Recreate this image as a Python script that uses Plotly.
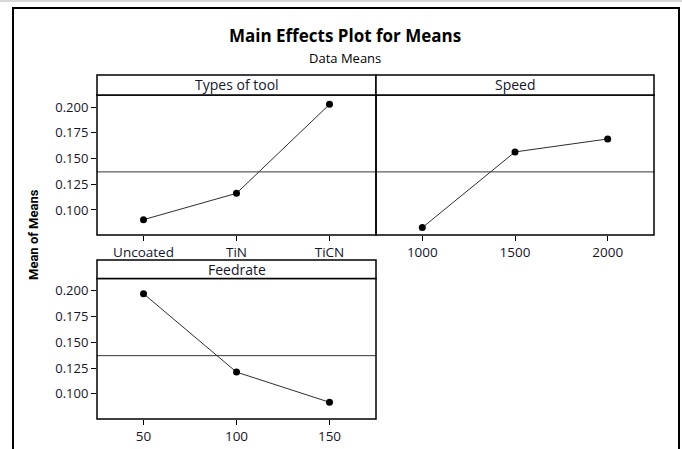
import plotly.graph_objects as go

W, H = 682, 449

# ---- data ----
tool_levels = ["Uncoated", "TiN", "TiCN"]
tool_means = [0.0906, 0.1162, 0.2026]
speed_levels = [1000, 1500, 2000]
speed_means = [0.0829, 0.1564, 0.1690]
feed_levels = [50, 100, 150]
feed_means = [0.1970, 0.1211, 0.0919]
grand_mean = 0.137
panel_titles = ["Types of tool", "Speed", "Feedrate"]
y_ticks = [0.100, 0.125, 0.150, 0.175, 0.200]
y_tick_text = ["0.100", "0.125", "0.150", "0.175", "0.200"]

FONT = "Open Sans"
TXT = "#15152a"

def px(x):
    return x / W

def py(y):
    return 1 - y / H

fig = go.Figure()

line_style = dict(color="#2e2e2e", width=1)
marker_style = dict(color="black", size=7)

fig.add_trace(go.Scatter(x=tool_levels, y=tool_means, mode="lines+markers",
                         line=line_style, marker=marker_style, xaxis="x", yaxis="y",
                         showlegend=False))
fig.add_trace(go.Scatter(x=speed_levels, y=speed_means, mode="lines+markers",
                         line=line_style, marker=marker_style, xaxis="x2", yaxis="y2",
                         showlegend=False))
fig.add_trace(go.Scatter(x=feed_levels, y=feed_means, mode="lines+markers",
                         line=line_style, marker=marker_style, xaxis="x3", yaxis="y3",
                         showlegend=False))

yr = [0.0757, 0.2117]
xtickfont = dict(family=FONT, size=13.5, color=TXT)
ytickfont = dict(family=FONT, size=13, color=TXT)

axis_common = dict(showline=False, showgrid=False, zeroline=False, ticks="outside",
                   ticklen=5, tickwidth=1.2, tickcolor="black")

top_dom = [py(235), py(95)]
bot_dom = [py(419), py(278.5)]

fig.update_layout(
    width=W, height=H,
    margin=dict(l=0, r=0, t=0, b=0),
    paper_bgcolor="white", plot_bgcolor="white",
    xaxis=dict(domain=[px(97), px(376)], type="category", range=[-0.5, 2.5],
               anchor="y", tickfont=xtickfont, **axis_common),
    yaxis=dict(domain=top_dom, range=yr, tickvals=y_ticks, ticktext=y_tick_text,
               anchor="x", tickfont=ytickfont, **axis_common),
    xaxis2=dict(domain=[px(376), px(654)], range=[750, 2250], tickvals=speed_levels,
                anchor="y2", tickfont=xtickfont, **axis_common),
    yaxis2=dict(domain=top_dom, range=yr, tickvals=y_ticks, showticklabels=False,
                anchor="x2", **{**axis_common, "ticks": ""}),
    xaxis3=dict(domain=[px(97), px(376)], range=[25, 175], tickvals=feed_levels,
                anchor="y3", tickfont=xtickfont, **axis_common),
    yaxis3=dict(domain=bot_dom, range=yr, tickvals=y_ticks, ticktext=y_tick_text,
                anchor="x3", tickfont=ytickfont, **axis_common),
)

shapes = []
# grand mean reference lines
for xr, yr_ in [("x domain", "y"), ("x2 domain", "y2"), ("x3 domain", "y3")]:
    shapes.append(dict(type="line", xref=xr, yref=yr_, x0=0, x1=1,
                       y0=grand_mean, y1=grand_mean,
                       line=dict(color="#333333", width=1)))

# plot-area frames
frames = [
    (97, 376, 95, 235),
    (376, 654, 95, 235),
    (97, 376, 278.5, 419),
]
for x0, x1, y0, y1 in frames:
    shapes.append(dict(type="rect", xref="paper", yref="paper",
                       x0=px(x0), x1=px(x1), y0=py(y1), y1=py(y0),
                       line=dict(color="black", width=1.5)))

# header strips
headers = [
    (97, 376, 75, 95),
    (376, 654, 75, 95),
    (97, 376, 260, 278.5),
]
annotations = []
for (x0, x1, y0, y1), title in zip(headers, panel_titles):
    shapes.append(dict(type="rect", xref="paper", yref="paper",
                       x0=px(x0), x1=px(x1), y0=py(y1), y1=py(y0),
                       line=dict(color="black", width=1.5), fillcolor="white"))
    annotations.append(dict(text=title, xref="paper", yref="paper",
                            x=px((x0 + x1) / 2), y=py((y0 + y1) / 2),
                            showarrow=False, xanchor="center", yanchor="middle",
                            font=dict(family=FONT, size=14, color=TXT)))

# outer frame
shapes.append(dict(type="rect", xref="paper", yref="paper",
                   x0=px(13), x1=px(679), y0=-0.2, y1=py(8),
                   line=dict(color="black", width=2)))
# faint grey strip at very top
shapes.append(dict(type="rect", xref="paper", yref="paper",
                   x0=0, x1=1, y0=py(2), y1=1,
                   line=dict(width=0), fillcolor="#d8d8d8"))

annotations += [
    dict(text="<b>Main Effects Plot for Means</b>", xref="paper", yref="paper",
         x=px(345), y=py(35.5), showarrow=False, xanchor="center", yanchor="middle",
         font=dict(family=FONT, size=17, color="black")),
    dict(text="Data Means", xref="paper", yref="paper",
         x=px(345), y=py(58), showarrow=False, xanchor="center", yanchor="middle",
         font=dict(family=FONT, size=13, color="black")),
    dict(text="<b>Mean of Means</b>", xref="paper", yref="paper",
         x=px(33), y=py(235), showarrow=False, xanchor="center", yanchor="middle",
         textangle=-90, font=dict(family="Roboto", size=13, color="black")),
]

fig.update_layout(shapes=shapes, annotations=annotations)

fig.write_html("out.html")
